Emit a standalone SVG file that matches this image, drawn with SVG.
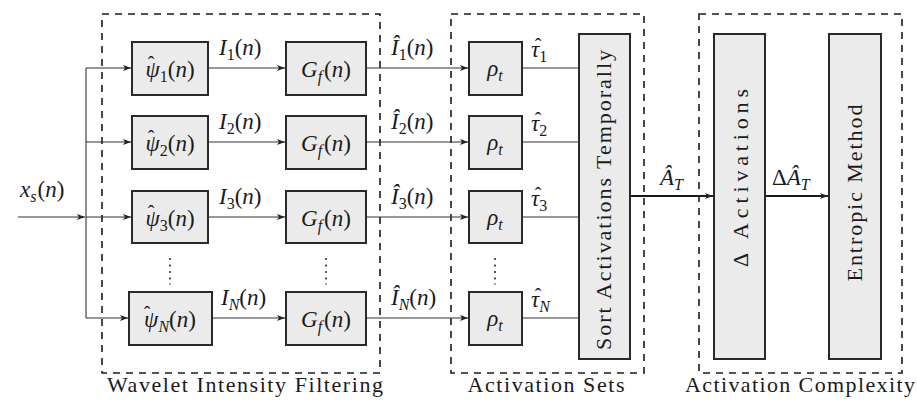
<svg xmlns="http://www.w3.org/2000/svg" width="917" height="403" viewBox="0 0 917 403">
<style>
text{font-family:"Liberation Serif","DejaVu Serif",serif;fill:#1a1a1a}
.m{font-style:italic;font-size:23px}
.r{font-style:normal}
.h{font-style:normal;font-size:20px;text-anchor:middle}
.t{font-size:22px}
.box{fill:#ebebeb;stroke:#2a2a2a;stroke-width:2}
.dash{fill:none;stroke:#1a1a1a;stroke-width:1.6;stroke-dasharray:7,6}
.ln{fill:none;stroke:#333;stroke-width:1.1}
.lnb{fill:none;stroke:#1a1a1a;stroke-width:2}
.dot{fill:#333}
</style>
<defs>
<marker id="ah" markerUnits="userSpaceOnUse" markerWidth="10" markerHeight="8" refX="8" refY="4" orient="auto">
<path d="M0,1 L8,4 L0,7 L2,4 Z" fill="#222"/>
</marker>
</defs>
<g id="groups">
<rect class="dash" x="102" y="14" width="278" height="359"/>
<rect class="dash" x="451" y="14" width="193" height="359"/>
<rect class="dash" x="699" y="14" width="203" height="359"/>
<text class="t" x="245" y="392" text-anchor="middle" textLength="276">Wavelet Intensity Filtering</text>
<text class="t" x="546" y="392" text-anchor="middle" textLength="157">Activation Sets</text>
<text class="t" x="800" y="392" text-anchor="middle" textLength="230">Activation Complexity</text>
</g>
<g id="connectors">
<line class="ln" x1="18" y1="217" x2="85" y2="217" marker-end="url(#ah)"/>
<line class="ln" x1="86" y1="68" x2="86" y2="318"/>
<line class="ln" x1="86" y1="68" x2="131" y2="68" marker-end="url(#ah)"/>
<line class="ln" x1="86" y1="142" x2="131" y2="142" marker-end="url(#ah)"/>
<line class="ln" x1="86" y1="217" x2="131" y2="217" marker-end="url(#ah)"/>
<line class="ln" x1="86" y1="318" x2="128" y2="318" marker-end="url(#ah)"/>
<line class="ln" x1="208" y1="68" x2="285" y2="68" marker-end="url(#ah)"/>
<line class="ln" x1="208" y1="142" x2="285" y2="142" marker-end="url(#ah)"/>
<line class="ln" x1="208" y1="217" x2="285" y2="217" marker-end="url(#ah)"/>
<line class="ln" x1="212" y1="318" x2="285" y2="318" marker-end="url(#ah)"/>
<line class="ln" x1="366" y1="68" x2="468" y2="68" marker-end="url(#ah)"/>
<line class="ln" x1="366" y1="142" x2="468" y2="142" marker-end="url(#ah)"/>
<line class="ln" x1="366" y1="217" x2="468" y2="217" marker-end="url(#ah)"/>
<line class="ln" x1="366" y1="318" x2="468" y2="318" marker-end="url(#ah)"/>
<line class="ln" x1="522" y1="68" x2="579" y2="68"/>
<line class="ln" x1="522" y1="142" x2="579" y2="142"/>
<line class="ln" x1="522" y1="217" x2="579" y2="217"/>
<line class="ln" x1="522" y1="318" x2="579" y2="318"/>
<line class="lnb" x1="630" y1="196" x2="713" y2="196" marker-end="url(#ah)"/>
<line class="lnb" x1="765" y1="196" x2="828" y2="196" marker-end="url(#ah)"/>
<text class="m" x="20" y="197">x<tspan font-size="16" dy="5">s</tspan><tspan class="r" dy="-5" dx="1">(</tspan>n<tspan class="r">)</tspan></text>
<text class="m" x="219" y="55">I<tspan class="r" font-size="16" dy="5">1</tspan><tspan class="r" dy="-5">(</tspan>n<tspan class="r">)</tspan></text>
<text class="m" x="219" y="129">I<tspan class="r" font-size="16" dy="5">2</tspan><tspan class="r" dy="-5">(</tspan>n<tspan class="r">)</tspan></text>
<text class="m" x="219" y="204">I<tspan class="r" font-size="16" dy="5">3</tspan><tspan class="r" dy="-5">(</tspan>n<tspan class="r">)</tspan></text>
<text class="m" x="221" y="305">I<tspan font-size="16" dy="5">N</tspan><tspan class="r" dy="-5">(</tspan>n<tspan class="r">)</tspan></text>
<text class="m" x="391" y="55">I&#770;<tspan class="r" font-size="16" dy="5">1</tspan><tspan class="r" dy="-5">(</tspan>n<tspan class="r">)</tspan></text>
<text class="m" x="391" y="129">I&#770;<tspan class="r" font-size="16" dy="5">2</tspan><tspan class="r" dy="-5">(</tspan>n<tspan class="r">)</tspan></text>
<text class="m" x="391" y="204">I&#770;<tspan class="r" font-size="16" dy="5">3</tspan><tspan class="r" dy="-5">(</tspan>n<tspan class="r">)</tspan></text>
<text class="m" x="391" y="305">I&#770;<tspan font-size="16" dy="5">N</tspan><tspan class="r" dy="-5">(</tspan>n<tspan class="r">)</tspan></text>
<text class="m" x="531" y="57">τ<tspan class="r" font-size="16" dy="5">1</tspan></text>
<text class="m" x="531" y="131">τ<tspan class="r" font-size="16" dy="5">2</tspan></text>
<text class="m" x="531" y="206">τ<tspan class="r" font-size="16" dy="5">3</tspan></text>
<text class="m" x="531" y="307">τ<tspan font-size="16" dy="5">N</tspan></text>
<text class="h" x="538" y="53">ˆ</text>
<text class="h" x="538" y="127">ˆ</text>
<text class="h" x="538" y="202">ˆ</text>
<text class="h" x="538" y="303">ˆ</text>
<text class="m" x="660" y="185">A&#770;<tspan font-size="16" dy="5">T</tspan></text>
<text class="m" x="772" y="185"><tspan class="r">Δ</tspan>A&#770;<tspan font-size="16" dy="5">T</tspan></text>
</g>
<g id="psi1"><rect class="box" x="132" y="42" width="76" height="53"/><text class="m" x="170" y="77" text-anchor="middle">ψ<tspan class="r" font-size="16" dy="5">1</tspan><tspan class="r" dy="-5">(</tspan>n<tspan class="r">)</tspan></text><text class="h" x="151" y="71">ˆ</text></g>
<g id="psi2"><rect class="box" x="132" y="116" width="76" height="53"/><text class="m" x="170" y="151" text-anchor="middle">ψ<tspan class="r" font-size="16" dy="5">2</tspan><tspan class="r" dy="-5">(</tspan>n<tspan class="r">)</tspan></text><text class="h" x="151" y="145">ˆ</text></g>
<g id="psi3"><rect class="box" x="132" y="191" width="76" height="52"/><text class="m" x="170" y="226" text-anchor="middle">ψ<tspan class="r" font-size="16" dy="5">3</tspan><tspan class="r" dy="-5">(</tspan>n<tspan class="r">)</tspan></text><text class="h" x="151" y="220">ˆ</text></g>
<g id="psiN"><rect class="box" x="129" y="292" width="83" height="53"/><text class="m" x="170" y="327" text-anchor="middle">ψ<tspan font-size="16" dy="5">N</tspan><tspan class="r" dy="-5">(</tspan>n<tspan class="r">)</tspan></text><text class="h" x="147" y="321">ˆ</text></g>
<g id="g1"><rect class="box" x="286" y="42" width="80" height="53"/><text class="m" x="326" y="77" text-anchor="middle">G<tspan font-size="16" dy="5">f</tspan><tspan class="r" dy="-5" dx="2">(</tspan>n<tspan class="r">)</tspan></text></g>
<g id="g2"><rect class="box" x="286" y="116" width="80" height="53"/><text class="m" x="326" y="151" text-anchor="middle">G<tspan font-size="16" dy="5">f</tspan><tspan class="r" dy="-5" dx="2">(</tspan>n<tspan class="r">)</tspan></text></g>
<g id="g3"><rect class="box" x="286" y="191" width="80" height="52"/><text class="m" x="326" y="226" text-anchor="middle">G<tspan font-size="16" dy="5">f</tspan><tspan class="r" dy="-5" dx="2">(</tspan>n<tspan class="r">)</tspan></text></g>
<g id="gN"><rect class="box" x="286" y="292" width="80" height="53"/><text class="m" x="326" y="327" text-anchor="middle">G<tspan font-size="16" dy="5">f</tspan><tspan class="r" dy="-5" dx="2">(</tspan>n<tspan class="r">)</tspan></text></g>
<g id="rho1"><rect class="box" x="469" y="42" width="53" height="53"/><text class="m" x="495" y="76" text-anchor="middle">ρ<tspan font-size="16" dy="5">t</tspan></text></g>
<g id="rho2"><rect class="box" x="469" y="116" width="53" height="53"/><text class="m" x="495" y="150" text-anchor="middle">ρ<tspan font-size="16" dy="5">t</tspan></text></g>
<g id="rho3"><rect class="box" x="469" y="191" width="53" height="52"/><text class="m" x="495" y="225" text-anchor="middle">ρ<tspan font-size="16" dy="5">t</tspan></text></g>
<g id="rhoN"><rect class="box" x="469" y="292" width="53" height="53"/><text class="m" x="495" y="326" text-anchor="middle">ρ<tspan font-size="16" dy="5">t</tspan></text></g>
<g id="dots">
<circle class="dot" cx="170" cy="259" r="1.1"/><circle class="dot" cx="170" cy="265.5" r="1.1"/><circle class="dot" cx="170" cy="272" r="1.1"/><circle class="dot" cx="170" cy="278.5" r="1.1"/><circle class="dot" cx="170" cy="284" r="0.8"/>
<circle class="dot" cx="326" cy="259" r="1.1"/><circle class="dot" cx="326" cy="265.5" r="1.1"/><circle class="dot" cx="326" cy="272" r="1.1"/><circle class="dot" cx="326" cy="278.5" r="1.1"/><circle class="dot" cx="326" cy="284" r="0.8"/>
<circle class="dot" cx="495" cy="259" r="1.1"/><circle class="dot" cx="495" cy="265.5" r="1.1"/><circle class="dot" cx="495" cy="272" r="1.1"/><circle class="dot" cx="495" cy="278.5" r="1.1"/><circle class="dot" cx="495" cy="284" r="0.8"/>
</g>
<g id="sort"><rect class="box" x="579" y="34" width="51" height="325"/><text class="t" transform="translate(611,200) rotate(-90)" text-anchor="middle" textLength="300">Sort Activations Temporally</text></g>
<g id="delta"><rect class="box" x="714" y="34" width="51" height="325"/><text class="t" transform="translate(748,178) rotate(-90)" text-anchor="middle" textLength="178">Δ Activations</text></g>
<g id="entropic"><rect class="box" x="829" y="34" width="52" height="325"/><text class="t" transform="translate(862,193) rotate(-90)" text-anchor="middle" textLength="177">Entropic Method</text></g>
</svg>
